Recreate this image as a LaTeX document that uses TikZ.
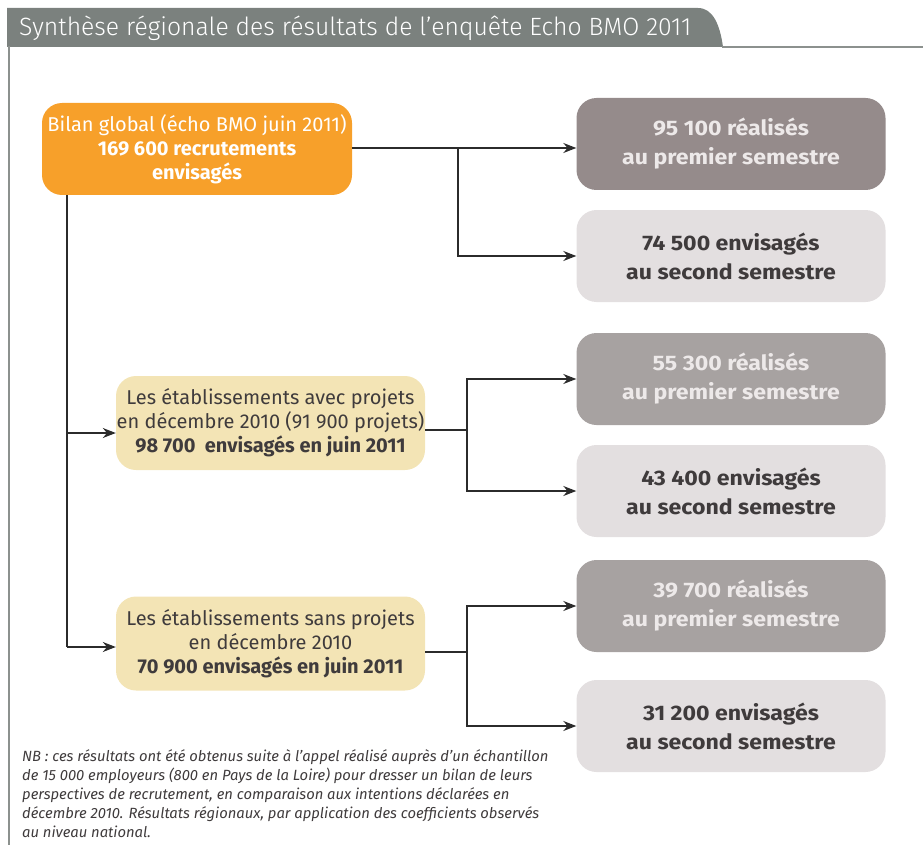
\documentclass[tikz,border=0pt]{standalone}
\usepackage{fontspec}
\setmainfont{Fira Sans}
\newfontfamily\titlefont[FakeStretch=0.99]{Fira Sans Light}
\newfontfamily\rboldfont[FakeStretch=1.1]{Fira Sans}
\usetikzlibrary{arrows.meta}
\definecolor{tabgray}{HTML}{7B817E}
\definecolor{framegray}{HTML}{8C918E}
\definecolor{orangebox}{HTML}{F7A02A}
\definecolor{darkbox}{HTML}{958B8B}
\definecolor{midbox}{HTML}{A7A2A1}
\definecolor{lightbox}{HTML}{E3DFE0}
\definecolor{beigebox}{HTML}{F3E4B5}
\definecolor{darktext}{HTML}{3F3B3C}
\definecolor{palettext}{HTML}{EDE9E9}
\definecolor{linecol}{HTML}{2B2B2B}
\tikzset{
  boxbase/.style={rounded corners=20pt, minimum width=309pt, minimum height=92pt, align=center, inner sep=0pt},
  rdark/.style={boxbase, fill=#1, text=palettext, font=\rboldfont\fontsize{21}{29}\selectfont\bfseries},
  rlight/.style={boxbase, fill=lightbox, text=darktext, font=\rboldfont\fontsize{21}{29}\selectfont\bfseries},
  orangestyle/.style={boxbase, fill=orangebox, text=white, minimum width=310pt, font=\fontsize{20}{24}\selectfont},
  beigestyle/.style={boxbase, fill=beigebox, text=darktext, minimum height=94pt, font=\fontsize{20}{24}\selectfont},
  ln/.style={draw=linecol, line width=1.3pt},
  arr/.style={ln, -{Stealth[length=13pt,width=10pt]}},
}
\begin{document}
\begin{tikzpicture}[x=1pt,y=-1pt]
\useasboundingbox (0,0) rectangle (923,845);
% title tab
\fill[tabgray] (7,47) -- (7,8) -- (698,8) .. controls (713,8) and (720,25) .. (723,47) -- cycle;
\draw[framegray, line width=2pt] (722,47) -- (923,47);
\draw[framegray, line width=2pt] (9,46) -- (9,845);
\node[anchor=west, text=white, font=\titlefont\fontsize{25}{30}\selectfont, inner sep=0pt] (title) at (19,28) {Synthèse régionale des résultats de l’enquête Echo BMO 2011};

% left boxes
\node[orangestyle] (orange) at (197,149) {Bilan global (écho BMO juin 2011)\\ \textbf{169 600 recrutements}\\ \textbf{envisagés}};
\node[beigestyle] (mA) at (270.5,423) {Les établissements avec projets\\ en décembre 2010 (91 900 projets)\\ \textbf{98 700\ \ envisagés en juin 2011}};
\node[beigestyle] (mB) at (270.5,643.5) {Les établissements sans projets\\ en décembre 2010\\ \textbf{70 900 envisagés en juin 2011}};

% right boxes
\node[rdark=darkbox] (r1) at (731,144) {95 100 réalisés\\ au premier semestre};
\node[rlight] (r2) at (731,256) {74 500 envisagés\\ au second semestre};
\node[rdark=midbox] (r3) at (731,379) {55 300 réalisés\\ au premier semestre};
\node[rlight] (r4) at (731,491) {43 400 envisagés\\ au second semestre};
\node[rdark=midbox] (r5) at (731,606) {39 700 réalisés\\ au premier semestre};
\node[rlight] (r6) at (731,726) {31 200 envisagés\\ au second semestre};

% connectors
\coordinate (j1) at (458,148);
\draw[arr] (orange.east |- j1) -- (j1 -| r1.west);
\draw[arr] (j1) |- (r2.west);

\coordinate (t0) at (67,195);
\coordinate (aA) at (67,433);
\coordinate (aB) at (67,647);
\draw[ln] (t0) -- (aB);
\draw[arr] (aA) -- (aA -| mA.west);
\draw[arr] (aB) -- (aB -| mB.west);

\coordinate (jA) at (467,430);
\draw[ln] (mA.east |- jA) -- (jA);
\draw[arr] (jA) |- (r3.west);
\draw[arr] (jA) |- (r4.west);

\coordinate (jB) at (467,652);
\draw[ln] (mB.east |- jB) -- (jB);
\draw[arr] (jB) |- (r5.west);
\draw[arr] (jB) |- (r6.west);

% note
\node[anchor=north west, align=left, text=darktext, inner sep=0pt, font=\itshape\fontsize{14.8}{19}\selectfont] (note) at (22,749) {NB : ces résultats ont été obtenus suite à l’appel réalisé auprès d’un échantillon\\ de 15 000 employeurs (800 en Pays de la Loire) pour dresser un bilan de leurs\\ perspectives de recrutement, en comparaison aux intentions déclarées en\\ décembre 2010. Résultats régionaux, par application des coefficients observés\\ au niveau national.};
\end{tikzpicture}
\end{document}
